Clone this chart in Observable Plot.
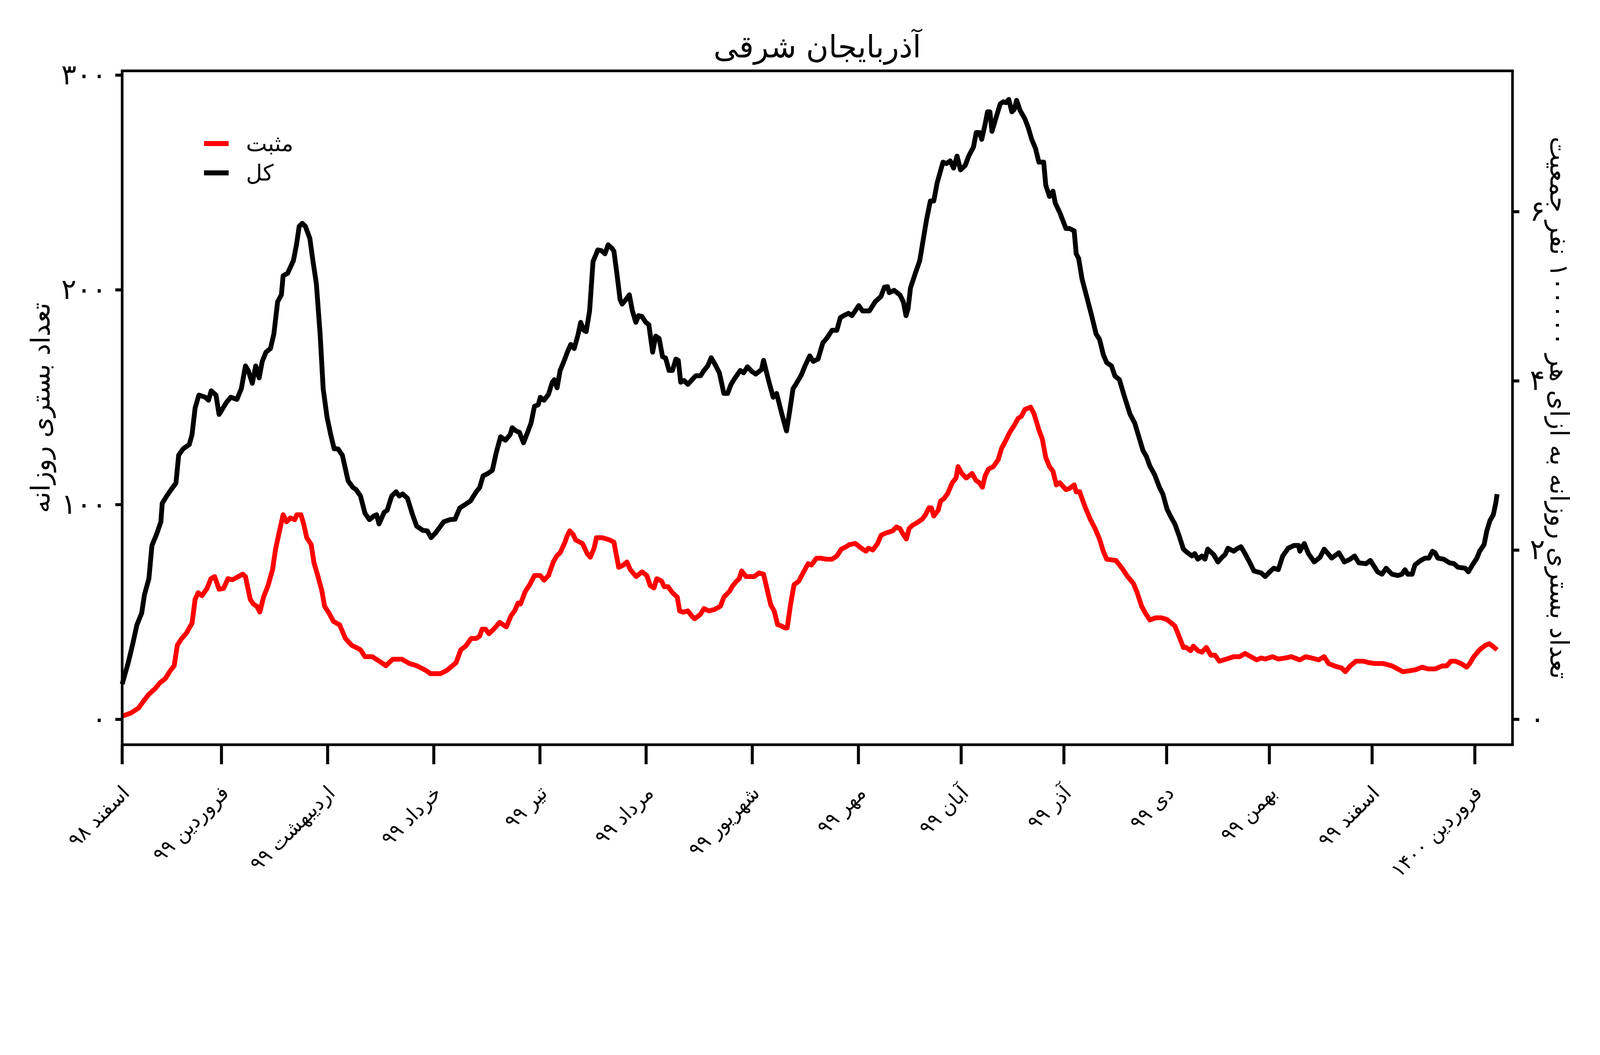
<!DOCTYPE html>
<html>
<head>
<meta charset="utf-8">
<script src="https://cdn.jsdelivr.net/npm/d3@7"></script>
<script src="https://cdn.jsdelivr.net/npm/@observablehq/plot@0.6"></script>
<style>
  html, body { margin: 0; padding: 0; background: #fff; overflow: hidden; }
  #wrap { position: absolute; left: 0; top: 0; width: 4800px; height: 2700px; overflow: hidden; background: #fff; font-family: "DejaVu Sans", sans-serif; transform-origin: 0 0; }
  #wrap svg { display: block; }
  #legend { position: absolute; left: 612px; top: 386px; color: #000; font-size: 67px; font-family: "DejaVu Sans", sans-serif; }
  .row { display: flex; align-items: center; height: 88px; }
  .sw { width: 74px; height: 15px; margin-right: 52px; }
</style>
</head>
<body>
<div id="wrap"><div id="legend"></div></div>
<script>
// ---------- data (days since 2020-02-20 = 1 Esfand 1398) ----------
const startDate = "2020-02-20";
const titleText = "آذربایجان شرقی";
const leftLabel = "تعداد بستری روزانه";
const rightLabel = "تعداد بستری روزانه به ازای هر ۱۰۰۰۰۰ نفر جمعیت";
const seriesNames = ["مثبت", "کل"];
const seriesColors = ["#ff0000", "#000000"];

const totalDays = [0,1.7,3,4.3,5.7,6.5,7.8,8.7,10,11.3,11.7,13,14.3,15.7,16.5,17.8,19.6,20.4,21.3,22.4,24.3,25.2,26,27.4,28.3,30.4,31.7,33.5,34.8,36,36.8,38,39,40,40.9,42,43.3,44.3,45.4,46.5,47,48.3,50,50.9,51.7,52.6,53.5,54.8,55.7,56.7,57.8,58.7,59.8,60.9,61.9,63,64.3,66,67.4,68.3,69.6,70.9,72.2,73.5,74.3,75,76.5,77.4,78.7,80,80.9,81.9,83.3,84.8,86,87.8,89.1,90.2,91.5,93.9,95.7,
97.2,98.6,100.3,101.7,103.4,104.4,105.4,106.8,108.1,109.2,110.5,111.9,113.3,113.9,115,116,117.2,118.4,119.4,120.4,121.5,122.1,123.2,124.5,125.6,126.2,127,127.9,129,130,131,132,133.1,133.9,134.8,135.5,136.5,137.5,138.9,139.9,141,141.9,143,143.6,144.5,145.4,146,147.1,148.1,149,150,150.8,151.8,152.9,153.8,154.9,155.8,156.8,157.8,158.7,159.7,160.7,161.7,162.4,163.1,164.1,165.2,166.2,167.5,168.9,169.9,171,172,173,174.4,175.7,176.8,177.8,178.8,180.5,181.5,182.6,183.9,185,186.7,187.3,188.7,190.1,191.1,192.8,194,194.9,195.9,196.9,198.3,
199.4,200.8,201.8,203.2,204.6,205.9,207.3,208.7,209.7,210.7,212.1,213.1,215.1,216.2,218.2,219.9,221.6,222.6,223.5,224,225.4,227.1,228.1,228.9,229.5,230.2,231.5,232.9,233.9,234.9,236,237,238,239.7,240.7,241.8,242.8,243.8,244.8,246.2,247.2,248.6,249.4,250.3,251,252,252.7,253.4,254,255.3,256.4,257.3,258.1,258.9,259.8,260.5,261.2,262.2,263.6,264.6,265.6,266.7,267.7,269.1,269.7,270.8,271.8,272.5,273.8,275.6,276.6,278,278.6,279.3,280.3,281.7,283.1,284.4,285.4,286.5,287.5,288.9,289.9,291.2,292.6,294.3,295.7,296.7,298.1,299.1,300.1,301.5,302.9,303.9,305.1,
306.1,307.4,308.6,309.9,311.1,312.4,313.2,314.1,315.3,316.2,317,318.7,320,321.2,322.1,322.9,324.6,325.4,326.7,327.9,329.2,330.5,332.6,333.8,335.1,336.3,337.6,338.9,340.5,342.2,343.5,343.9,345.2,346.4,348.1,349.8,351,353.2,355.3,356.9,358.6,359.9,361.1,363.2,364.5,366.6,367.9,369.1,370.8,372.5,373.7,374.6,375.4,376.7,377.5,379.2,380.5,381.6,382.6,383.4,384.2,385.9,387.6,388.9,390.1,392.2,393.1,394.3,395.6,396.4,397.7,398.5,399.4,400.4,401.1,401.5];
const totalValues = [16.4,26,34.5,44,49.5,58,65.5,81,86,92,100.6,104,107,110,123,126,128,132.6,145,151,150,148.6,153,151,142,147.5,150,149,154,164.6,162.5,156.5,164.6,159,166.7,171,172.7,179.5,194.5,197.7,206.6,207.7,213.6,221,229.6,231,229.6,224,213.6,203,179.5,154,141,132.6,126,126,123,111,108,107,104,96,93,94.7,95.3,91,96.4,97.4,104,106,104,105,103,95.3,90,88,87.8,84.6,86.8,92,93,
93.2,98.5,100.2,101.7,106,108,113.4,114.5,116,124,131.6,130,132.6,135.8,134.3,133.7,128.8,133.7,138,145.8,146.5,150,148.6,151.4,157,158.2,154.4,162.5,166.7,171,174.6,172.7,179,184.9,181.2,180.6,190.2,213.2,218.6,218.3,216.8,221,219.4,218,207.2,195.5,193.4,195.5,197.7,190.2,184.9,188,187.6,184.9,183.8,171,178.5,177.4,168.9,168.2,162.5,162.5,167.8,167.2,157,157.8,156,157.8,160,160,162.5,164.6,168.4,165.7,161.4,151.8,151.8,156,158.6,162.5,161.4,164.2,162,160.8,162.9,167.2,158.2,150,151.8,141.2,134.3,143.3,154,156.5,160.3,
164.6,169.3,166.7,167.8,175.3,177.8,181.2,181.2,187,188,189.1,188,192.7,190.2,190.2,194.5,197,201.3,201.5,198.7,199.8,197.7,194.5,188,191.3,200.9,207.2,213.6,223.2,232.8,241.4,241.4,249.9,259.5,258.8,260.1,256.7,262.3,255.9,258,262.3,266.5,273.3,273.3,270.1,277.2,282.9,282.9,273.8,280.8,286.6,287.6,287.2,288.7,282.9,284,288.3,283.6,279.7,275.5,270.1,265.9,259.5,259.5,248.8,243.5,246,240.3,236,228.6,228.6,227.5,216.8,214.7,205.1,196.6,188,179.5,177,169.9,166.1,164.6,159.9,158.2,150.7,142.2,137.9,132.6,125.2,122.4,118,113.9,108.1,104.9,98,
94.7,91,85.7,79.3,77.6,76.1,77.2,74.6,76.1,74.6,79.3,76.8,73.3,75.5,76.8,79.7,78.3,79.3,80.4,77.2,73.3,69.1,68.2,66.5,68.7,70.4,69.7,76.1,79.7,81,81,78.3,81.9,77.2,73.3,75.5,79.3,75.1,77.6,73.3,74.6,76.1,72.9,72.5,74,68.7,67.6,70.4,67.6,67,67.6,69.7,67.6,67.6,71.9,74,75.1,75.1,78.3,77.6,75.1,74.6,72.9,72.5,70.8,70.4,68.7,71.9,75.1,78.3,81.4,87.8,92.5,95.3,100.6,104.9];

const positiveDays = [0,2.6,4.8,6,7.8,9.6,11,12.6,14.1,15.2,16.1,17.4,18.7,20.4,21.3,22.2,23.3,24.8,25.9,27,28.3,29.6,30.9,32.2,33.9,35.2,36,37.4,38.3,39.3,40.2,41.3,42.6,43.9,44.8,45.7,47,48,49.1,50.4,51,52.2,53,53.9,55.2,56,57,58.3,59.1,60.4,61.7,63.5,65.2,67,68.3,69.6,70.9,73,75.2,77,79,81.7,83.9,86,88.7,90,93,94.8,
97.5,98.9,100.3,101.9,103.4,104.4,105.1,106.1,107.1,108.5,110.2,111.2,112.2,113.6,114.6,115.6,116.3,117.7,119,120.4,122.1,123.2,124.5,125.9,126.9,127.9,129.3,130,130.7,131.7,132.4,134.4,135.8,136.7,137.8,138.5,140.2,142.3,143.6,145,146.4,147.4,148.4,150.1,151.8,153.2,154.2,155.3,156.1,157.5,158.3,159.4,160.7,162.1,162.8,163.8,165.2,166.5,167.2,168.9,169.9,171.3,173,174.7,175.7,177.4,178.1,179.2,180.2,180.9,182.2,183.6,184.6,186,187.3,188.4,189.4,190.4,191.4,192.5,193.5,194.2,195.2,196.2,197.6,199,200.3,201.3,202.7,
203.9,205.6,207.3,208.7,210,211.4,212.4,214.1,216.2,217.2,217.9,219.2,220.6,221.6,223,225,226.1,227.1,228.1,229,229.8,230.8,232.2,233.6,234.6,235.6,236.3,237,238.3,239,240,241.1,242.4,243.5,244.1,245.2,246.5,248.2,249.3,250.3,251.2,252,253,254.4,255.8,256.8,258.1,259.2,260.5,261.6,262.6,263.6,265.3,266.3,267.7,268.7,269.7,270.8,271.8,272.8,273.8,275.6,276.6,278,278.6,279.6,280.3,281.3,282.7,284.1,285.4,286.5,287.5,290.2,292.3,293.6,295.3,296.4,297.7,298.8,300.1,301.8,303.5,
305.1,306.1,307.4,308.6,309.9,310.7,312,312.8,314.1,315.3,316.6,317.9,319.1,320.4,322.5,324.6,326.3,327.9,329.6,331.3,332.6,333.8,335.9,337.6,339.7,341.4,343.9,345.6,347.3,349.4,351,352.3,354,356.1,357.2,358.6,360.3,362.4,364.1,365.8,368.3,370.8,372.5,374,375.8,377.9,379.6,381.3,383.4,385.5,386.8,388,389.3,391,392.6,393.5,394.7,396.4,398.1,399.2,400.2,401.5];
const positiveValues = [1.5,3,5.3,8,11.7,14.3,17,19,22.8,25,34.5,37.7,40,44.8,55.9,59,57.6,61,65.5,66.5,60.6,61,65.5,65,66.5,67.6,66.5,55.9,53.7,52.7,50,57,62.3,69.7,79.3,86,95.3,92,93.8,93,95.3,95.3,91,84.6,81.4,73,67.6,60,52.7,49.5,45.6,44,37.7,34.5,33.5,32.4,29.2,29.2,27,25,28,28,26,25,22.8,21.3,21.3,22.8,
26.4,32.4,34.1,37.7,37.7,38.8,42,42,39.9,42,45.2,44.1,43.1,48.4,50.5,54.2,53.7,59.5,62.7,67,67,64.8,67,73.3,76.1,77.6,82.5,85.7,87.8,86.1,83.6,81.9,77.2,75.5,79.7,84.6,84.6,83.6,82.5,70.8,71.9,73.3,69.7,66.5,68.7,67,62.3,61.2,65.5,64.4,61.8,61.8,59,56.9,50.5,49.9,50.5,47.8,46.9,49,51.6,50.5,51.2,52.7,56.9,59.7,61.8,64,65.5,69.1,66.5,66.5,66.5,68.2,67.6,60.1,53.3,50.5,44.1,43.5,42.6,42.6,53.7,62.7,64.4,68.7,72.5,71.9,75,
75.1,74.6,74.6,76.1,79.3,80.4,81.4,81.9,79.3,78.3,79.7,78.9,81.9,85.7,86.8,87.8,89.6,88.9,86.1,84,88.9,90.4,91.7,93.2,95.3,98.5,98.5,94.7,97.4,101.7,102.8,105.3,110.2,112.4,117.7,114.5,112.4,114.5,111.3,110.2,108.1,113.4,116.6,117.7,120.9,126.2,130.1,133.7,136.9,140.1,141.2,144.3,145.4,142.2,134.8,130.5,122,117.7,115.6,109.2,110.2,107,107.5,109.2,106,106,102.8,98.5,93.2,88.9,84,78.3,74.6,74,69.7,66.5,63.3,59,52.7,49.5,46.3,47.3,47.3,
46.5,45.2,43.5,38.8,33.5,33.5,32,34.1,32,31.3,33.5,29.9,29.9,27.1,28.1,29.2,29.2,30.7,29.2,27.7,28.6,28.1,29.2,28.1,28.6,29.2,27.7,29.2,28.6,27.7,29.2,26,24.9,23.9,22.2,24.9,27.1,27.1,26.4,26,26,24.9,23.5,22.2,22.6,23.2,24.3,23.5,23.5,24.9,24.9,27.1,27.1,26,24.3,26,29.2,32.4,34.5,35.2,34.1,32.4];

const monthStarts = ["2020-02-20","2020-03-20","2020-04-20","2020-05-21","2020-06-21","2020-07-22","2020-08-22","2020-09-22","2020-10-22","2020-11-21","2020-12-21","2021-01-20","2021-02-19","2021-03-21"];
const monthLabels = ["اسفند ۹۸","فروردین ۹۹","اردیبهشت ۹۹","خرداد ۹۹","تیر ۹۹","مرداد ۹۹","شهریور ۹۹","مهر ۹۹","آبان ۹۹","آذر ۹۹","دی ۹۹","بهمن ۹۹","اسفند ۹۹","فروردین ۱۴۰۰"];
const leftTicks = [0, 100, 200, 300];
const rightTicks = [0, 2, 4, 6];
const population = 3940000;       // per-100000 conversion for right axis
const xDomain = ["2020-02-20", "2021-04-01"];
const yDomain = [-11.8, 302];

// ---------- helpers ----------
const faDigits = "۰۱۲۳۴۵۶۷۸۹";
const fa = v => String(v).replace(/\d/g, c => faDigits[+c]);
const t0 = new Date(startDate).getTime();
const toDate = d => new Date(t0 + d * 864e5);
const total = totalDays.map((d, i) => ({date: toDate(d), value: totalValues[i]}));
const positive = positiveDays.map((d, i) => ({date: toDate(d), value: positiveValues[i]}));
const ratio = 100000 / population;
const monthDates = monthStarts.map(s => new Date(s));
const labelByTime = new Map(monthDates.map((d, i) => [+d, monthLabels[i]]));

const chart = Plot.plot({
  width: 4800,
  height: 2700,
  marginLeft: 366,
  marginRight: 263,
  marginTop: 212,
  marginBottom: 467,
  style: {fontFamily: "DejaVu Sans", background: "transparent", color: "#000", overflow: "visible"},
  x: {type: "utc", domain: xDomain.map(s => new Date(s))},
  y: {domain: yDomain},
  marks: [
    Plot.line(positive, {x: "date", y: "value", stroke: seriesColors[0], strokeWidth: 14.5, strokeLinejoin: "round", strokeLinecap: "butt"}),
    Plot.line(total, {x: "date", y: "value", stroke: seriesColors[1], strokeWidth: 14.5, strokeLinejoin: "round", strokeLinecap: "butt"}),
    Plot.frame({stroke: "#000", strokeWidth: 8}),
    Plot.axisY({anchor: "left", ticks: leftTicks, tickFormat: fa, tickSize: 20, tickPadding: 26, strokeWidth: 9, fontSize: 85, label: null}),
    Plot.axisY({anchor: "right", ticks: rightTicks.map(r => r / ratio), tickFormat: d => fa(Math.round(d * ratio)), tickSize: 20, tickPadding: 32, strokeWidth: 9, fontSize: 85, label: null}),
    // x tick marks
    Plot.axisX({ticks: monthDates, tickSize: 59, strokeWidth: 9, fill: "none", label: null}),
    // x tick labels (rotated)
    Plot.axisX({ticks: monthDates, tickFormat: d => labelByTime.get(+d), tickRotate: -45, tickSize: 0, tickPadding: 135, dx: 12, fontSize: 60, label: null}),
    Plot.text([leftLabel], {frameAnchor: "left", textAnchor: "middle", dx: -243, rotate: -90, fontSize: 79, fill: "#000"}),
    Plot.text([rightLabel], {frameAnchor: "right", textAnchor: "middle", dx: 138, rotate: 90, fontSize: 77, fill: "#000"}),
    Plot.text([titleText], {frameAnchor: "top", dy: -40, lineAnchor: "bottom", fontSize: 92, fill: "#000"})
  ]
});
const wrap = document.getElementById("wrap");
wrap.insertBefore(chart, wrap.firstChild);

const legend = document.getElementById("legend");
seriesNames.forEach((name, i) => {
  const row = document.createElement("div");
  row.className = "row";
  const sw = document.createElement("div");
  sw.className = "sw";
  sw.style.background = seriesColors[i];
  const tx = document.createElement("span");
  tx.textContent = name;
  row.appendChild(sw);
  row.appendChild(tx);
  legend.appendChild(row);
});

function fit() {
  const s = Math.min(window.innerWidth / 4800, window.innerHeight / 2700);
  wrap.style.transform = `scale(${s})`;
}
fit();
window.addEventListener("resize", fit);
</script>
</body>
</html>
